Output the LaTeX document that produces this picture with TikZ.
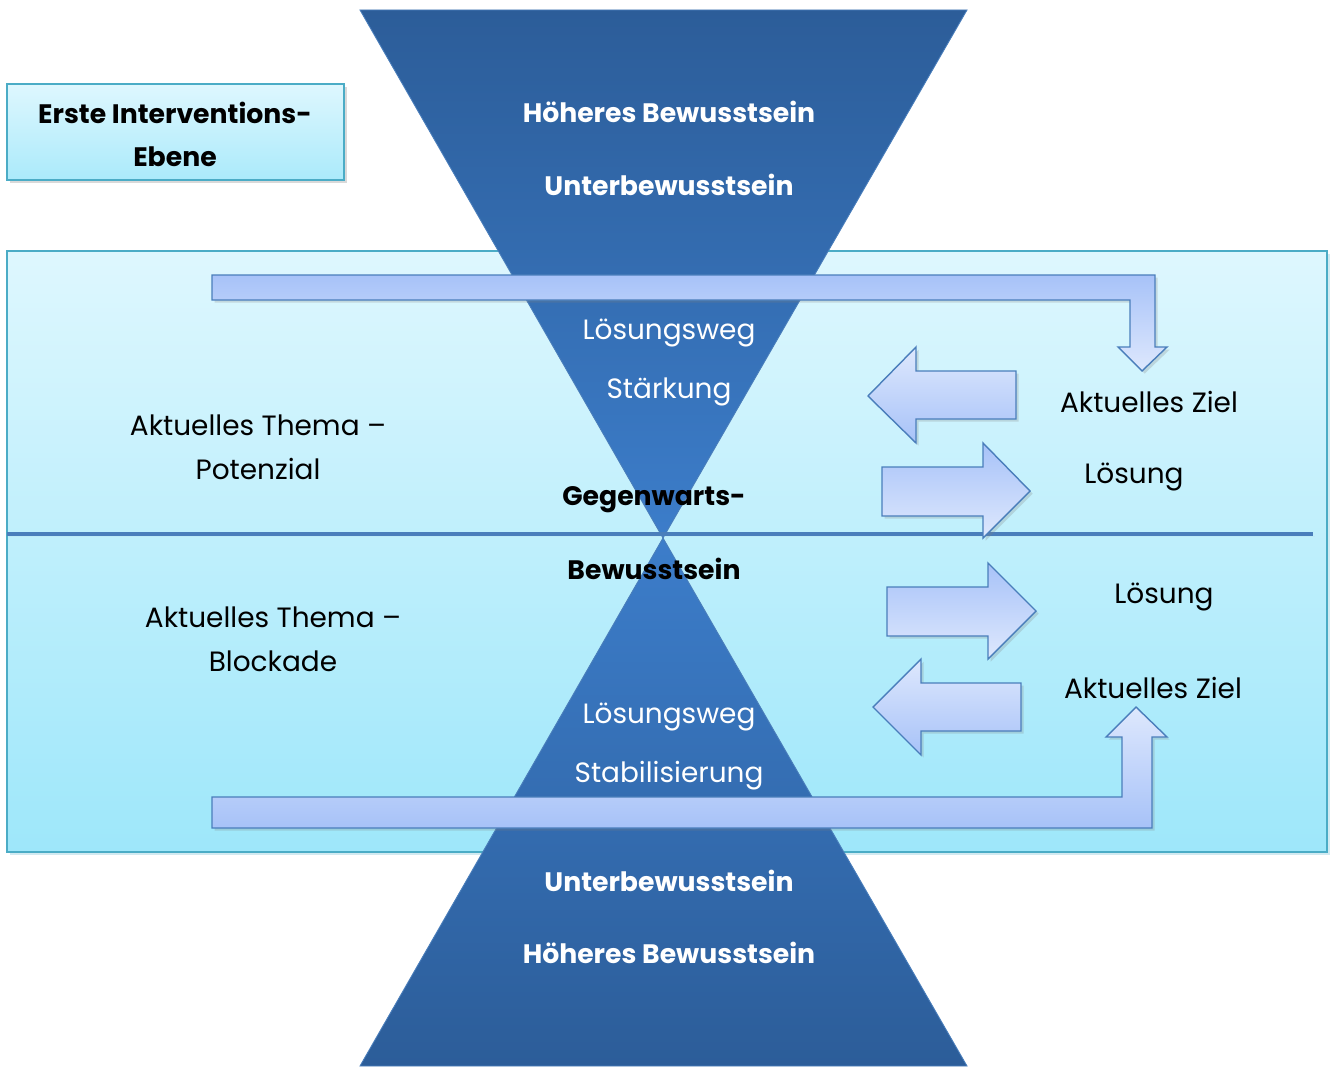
\documentclass[tikz,border=0pt]{standalone}
\usepackage{fontspec}
\setmainfont{Poppins}
\usetikzlibrary{shadows}

\definecolor{panelTop}{RGB}{222,247,254}
\definecolor{panelBot}{RGB}{158,231,250}
\definecolor{panelLine}{RGB}{75,172,198}
\definecolor{triDark}{RGB}{44,93,153}
\definecolor{triLight}{RGB}{60,125,202}
\definecolor{arrDark}{RGB}{167,194,248}
\definecolor{arrLight}{RGB}{222,232,253}
\definecolor{arrLine}{RGB}{74,126,187}

\tikzstyle{boxNode} = [rectangle, minimum width=6.74cm, minimum height=1.92cm, draw=panelLine, line width=1pt, top color=panelTop, bottom color=panelBot!80!panelTop, drop shadow={shadow xshift=1.5pt, shadow yshift=-1.5pt, opacity=0.3}]
\tikzstyle{txtNode} = [anchor=base, inner sep=0pt, font=\fontsize{15.9}{19}\selectfont]
\tikzstyle{boldNode} = [txtNode, font=\fontsize{15.2}{18}\selectfont\bfseries]
\tikzstyle{whiteNode} = [txtNode, text=white]
\tikzstyle{arrowDown} = [draw=arrLine, line width=0.8pt, top color=arrDark, bottom color=arrLight, drop shadow={shadow xshift=1.5pt, shadow yshift=-1.5pt, opacity=0.25}]
\tikzstyle{arrowUp} = [draw=arrLine, line width=0.8pt, top color=arrLight, bottom color=arrDark, drop shadow={shadow xshift=1.5pt, shadow yshift=-1.5pt, opacity=0.25}]

\begin{document}
\begin{tikzpicture}[x=0.02cm, y=-0.02cm]
    \useasboundingbox (0,0) rectangle (1333,1068);

    % background panel and title box
    \node (title)[boxNode] at (175.5,132) {};
    \fill [panelLine, opacity=0.25] (10,254) rectangle (1330,855);
    \draw [draw=panelLine, line width=1pt, top color=panelTop, bottom color=panelBot] (7,251) rectangle (1327,852);

    % hourglass
    \draw [draw=arrLine, line width=0.5pt, top color=triDark, bottom color=triLight] (360,10) -- (967,10) -- (663,538) -- cycle;
    \draw [draw=arrLine, line width=0.5pt, top color=triLight, bottom color=triDark] (663,538) -- (967,1066) -- (360,1066) -- cycle;

    % divider
    \draw [arrLine, line width=2.2pt, drop shadow={shadow xshift=1pt, shadow yshift=-1.5pt, opacity=0.3}] (7,534) -- (1313,534);

    % bent arrows
    \draw [arrowDown] (212,275) -- (1155,275) -- (1155,347) -- (1167,347) -- (1142,371) -- (1118,347) -- (1130,347) -- (1130,300) -- (212,300) -- cycle;
    \draw [arrowUp] (212,797) -- (1122,797) -- (1122,737) -- (1106,737) -- (1136,707) -- (1167,737) -- (1152,737) -- (1152,828) -- (212,828) -- cycle;

    % straight arrows
    \draw [arrowUp] (868,396) -- (916,347) -- (916,371) -- (1016,371) -- (1016,419) -- (916,419) -- (916,443) -- cycle;
    \draw [arrowDown] (882,467) -- (983,467) -- (983,443) -- (1030,491) -- (983,538) -- (983,516) -- (882,516) -- cycle;
    \draw [arrowDown] (887,587) -- (988,587) -- (988,563) -- (1036,611) -- (988,659) -- (988,636) -- (887,636) -- cycle;
    \draw [arrowUp] (873,707) -- (921,659) -- (921,683) -- (1021,683) -- (1021,731) -- (921,731) -- (921,755) -- cycle;

    % texts
    \node (t1)[boldNode] at (175,124) {Erste Interventions-};
    \node (t2)[boldNode] at (175,167) {Ebene};

    \node (hb1)[boldNode, text=white] at (669,123) {Höheres Bewusstsein};
    \node (ub1)[boldNode, text=white] at (669,195) {Unterbewusstsein};
    \node (lw1)[whiteNode] at (669,339) {Lösungsweg};
    \node (st)[whiteNode] at (669,398) {Stärkung};
    \node (gw)[boldNode] at (654,505) {Gegenwarts-};
    \node (bw)[boldNode] at (654,579) {Bewusstsein};
    \node (lw2)[whiteNode] at (669,723) {Lösungsweg};
    \node (sb)[whiteNode] at (669,782) {Stabilisierung};
    \node (ub2)[boldNode, text=white] at (669,891) {Unterbewusstsein};
    \node (hb2)[boldNode, text=white] at (669,963) {Höheres Bewusstsein};

    \node (th1)[txtNode] at (258,435) {Aktuelles Thema –};
    \node (pot)[txtNode] at (258,479) {Potenzial};
    \node (th2)[txtNode] at (273,627) {Aktuelles Thema –};
    \node (blk)[txtNode] at (273,671) {Blockade};

    \node (ziel1)[txtNode] at (1149,412) {Aktuelles Ziel};
    \node (los1)[txtNode] at (1134,483) {Lösung};
    \node (los2)[txtNode] at (1164,603) {Lösung};
    \node (ziel2)[txtNode] at (1153,698) {Aktuelles Ziel};
\end{tikzpicture}
\end{document}
